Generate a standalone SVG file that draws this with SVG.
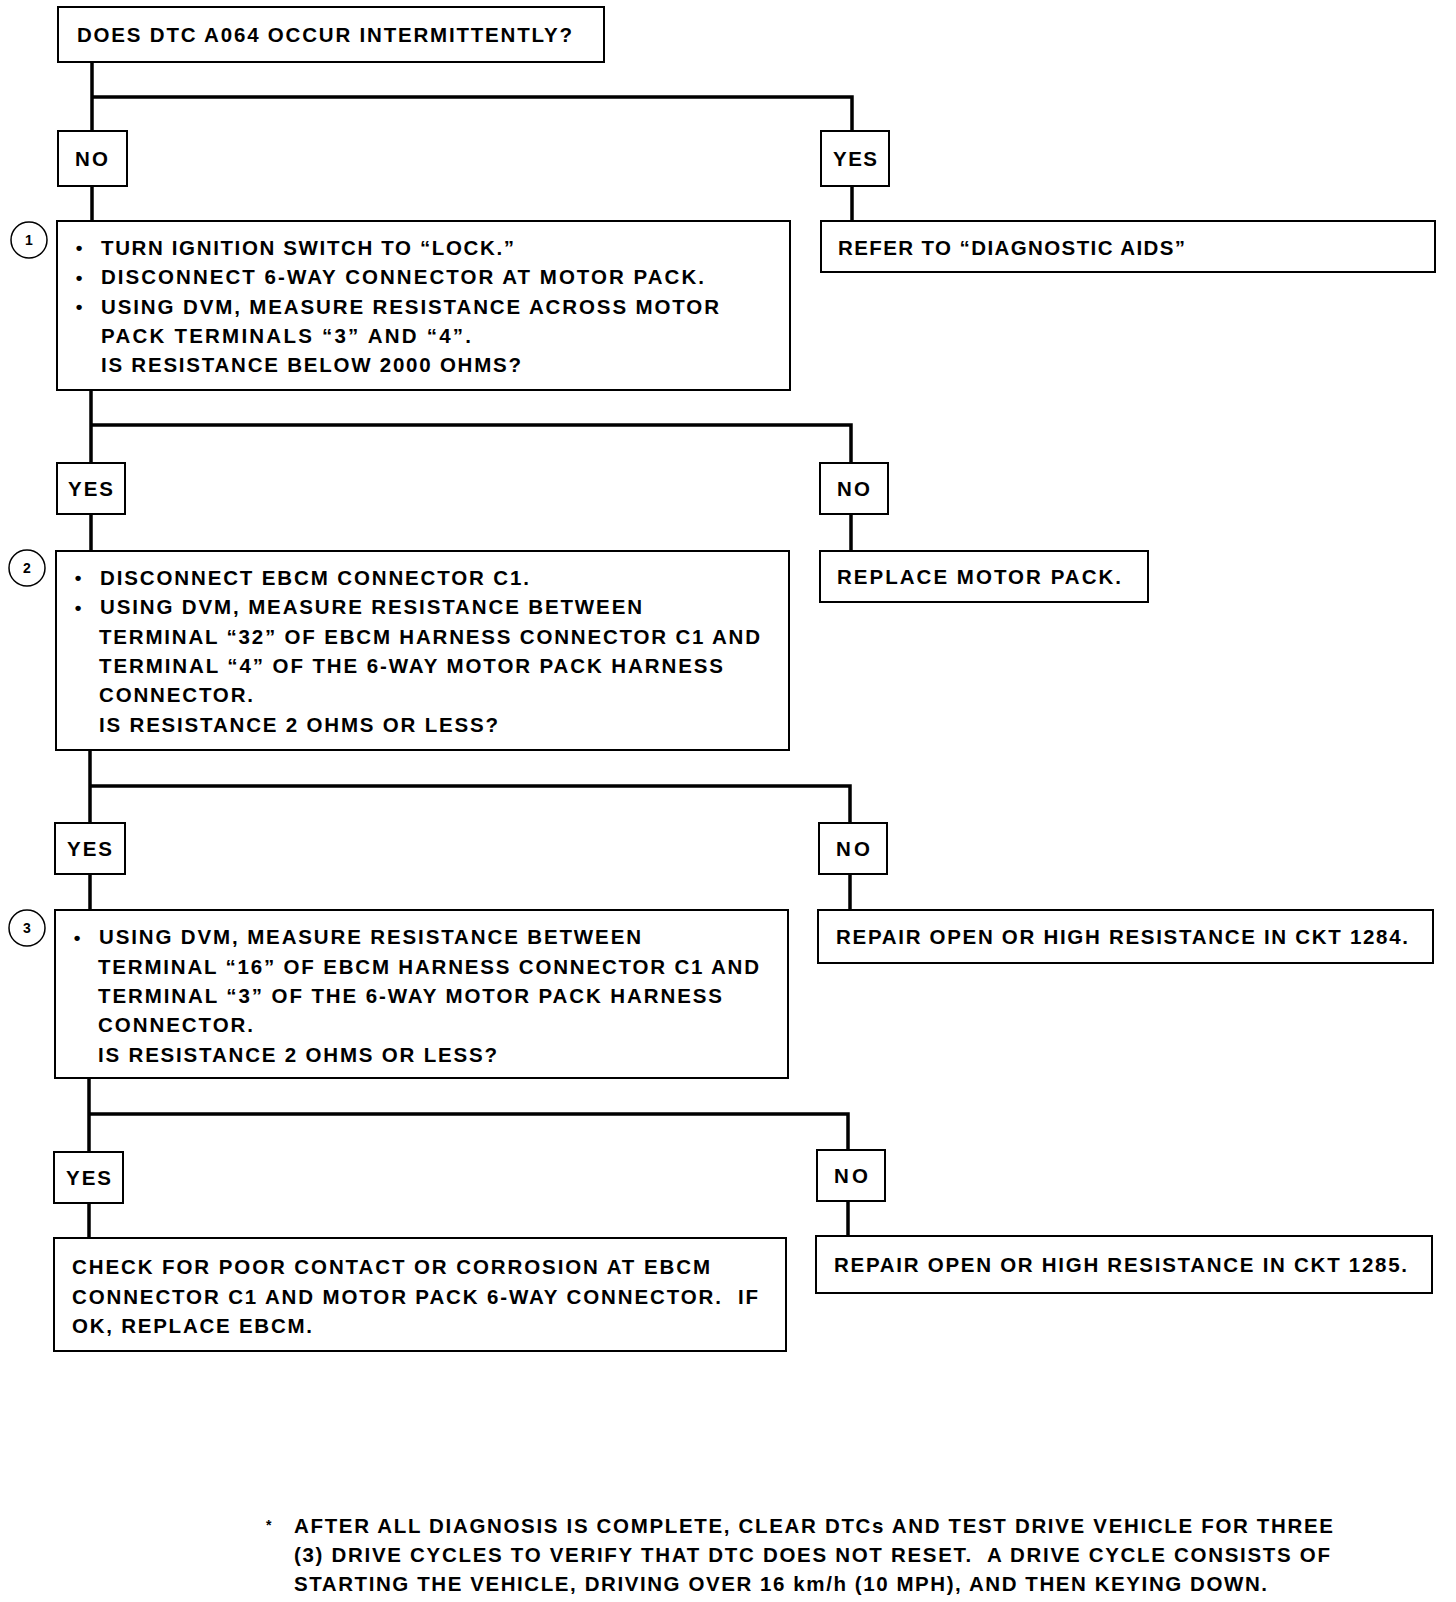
<svg xmlns="http://www.w3.org/2000/svg" width="1456" height="1602" viewBox="0 0 1456 1602">
<style>
.box{fill:#fff;stroke:#000;stroke-width:2}
.conn{fill:none;stroke:#000;stroke-width:3.5;stroke-linejoin:miter}
.t{font-family:"Liberation Sans",Arial,Helvetica,sans-serif;font-size:20.5px;font-weight:bold;fill:#000}
.b{font-family:"Liberation Sans",Arial,sans-serif;font-size:19px;font-weight:bold;fill:#000;text-anchor:middle}
.num{font-family:"Liberation Sans",Arial,sans-serif;font-size:14px;font-weight:bold;fill:#000;text-anchor:middle}
.circ{fill:#fff;stroke:#000;stroke-width:1.5}
</style>
<rect width="1456" height="1602" fill="#fff"/>
<g id="connectors">
<path class="conn" d="M92,62 V131 M92,97 H852 V131 M92,186 V221 M852,186 V221"/>
<path class="conn" d="M91,390 V463 M91,425 H851 V463 M91,514 V551 M851,514 V551"/>
<path class="conn" d="M90,750 V823 M90,786 H850 V823 M90,874 V910 M850,874 V910"/>
<path class="conn" d="M89,1078 V1152 M89,1114 H848 V1150 M89,1203 V1238 M848,1201 V1236"/>
</g>
<g id="start">
<rect class="box" x="58" y="7" width="546" height="55"/>
<text class="t" x="77" y="42" textLength="495" lengthAdjust="spacing">DOES DTC A064 OCCUR INTERMITTENTLY?</text>
</g>
<g id="no1">
<rect class="box" x="58" y="131" width="69" height="55"/>
<text class="t" x="75" y="166" textLength="33" lengthAdjust="spacing">NO</text>
</g>
<g id="yes1">
<rect class="box" x="821" y="131" width="68" height="55"/>
<text class="t" x="833" y="166" textLength="44" lengthAdjust="spacing">YES</text>
</g>
<g id="step1">
<circle class="circ" cx="29" cy="240" r="18"/>
<text class="num" x="29" y="245">1</text>
<rect class="box" x="57" y="221" width="733" height="169"/>
<text class="b" x="79" y="254">•</text>
<text class="b" x="79" y="283.5">•</text>
<text class="b" x="79" y="313">•</text>
<text class="t" x="101" y="254.5" textLength="413" lengthAdjust="spacing">TURN IGNITION SWITCH TO “LOCK.”</text>
<text class="t" x="101" y="284" textLength="603" lengthAdjust="spacing">DISCONNECT 6-WAY CONNECTOR AT MOTOR PACK.</text>
<text class="t" x="101" y="313.5" textLength="618" lengthAdjust="spacing">USING DVM, MEASURE RESISTANCE ACROSS MOTOR</text>
<text class="t" x="101" y="342.5" textLength="370" lengthAdjust="spacing">PACK TERMINALS “3” AND “4”.</text>
<text class="t" x="101" y="372" textLength="420" lengthAdjust="spacing">IS RESISTANCE BELOW 2000 OHMS?</text>
</g>
<g id="refer">
<rect class="box" x="821" y="221" width="614" height="51"/>
<text class="t" x="838" y="254.5" textLength="347" lengthAdjust="spacing">REFER TO “DIAGNOSTIC AIDS”</text>
</g>
<g id="yes2">
<rect class="box" x="57" y="463" width="68" height="51"/>
<text class="t" x="68" y="496" textLength="45" lengthAdjust="spacing">YES</text>
</g>
<g id="no2">
<rect class="box" x="820" y="463" width="68" height="51"/>
<text class="t" x="837" y="496" textLength="33" lengthAdjust="spacing">NO</text>
</g>
<g id="step2">
<circle class="circ" cx="27" cy="568" r="18"/>
<text class="num" x="27" y="573">2</text>
<rect class="box" x="56" y="551" width="733" height="199"/>
<text class="b" x="78" y="584">•</text>
<text class="b" x="78" y="613.5">•</text>
<text class="t" x="100" y="584.5" textLength="429" lengthAdjust="spacing">DISCONNECT EBCM CONNECTOR C1.</text>
<text class="t" x="100" y="614" textLength="542" lengthAdjust="spacing">USING DVM, MEASURE RESISTANCE BETWEEN</text>
<text class="t" x="99" y="643.5" textLength="661" lengthAdjust="spacing">TERMINAL “32” OF EBCM HARNESS CONNECTOR C1 AND</text>
<text class="t" x="99" y="673" textLength="624" lengthAdjust="spacing">TERMINAL “4” OF THE 6-WAY MOTOR PACK HARNESS</text>
<text class="t" x="99" y="702" textLength="154" lengthAdjust="spacing">CONNECTOR.</text>
<text class="t" x="99" y="731.5" textLength="399" lengthAdjust="spacing">IS RESISTANCE 2 OHMS OR LESS?</text>
</g>
<g id="replace-motor">
<rect class="box" x="820" y="551" width="328" height="51"/>
<text class="t" x="837" y="584" textLength="284" lengthAdjust="spacing">REPLACE MOTOR PACK.</text>
</g>
<g id="yes3">
<rect class="box" x="55" y="823" width="70" height="51"/>
<text class="t" x="67" y="856" textLength="45" lengthAdjust="spacing">YES</text>
</g>
<g id="no3">
<rect class="box" x="819" y="823" width="68" height="51"/>
<text class="t" x="836" y="856" textLength="34" lengthAdjust="spacing">NO</text>
</g>
<g id="step3">
<circle class="circ" cx="27" cy="928" r="18"/>
<text class="num" x="27" y="933">3</text>
<rect class="box" x="55" y="910" width="733" height="168"/>
<text class="b" x="77" y="943.5">•</text>
<text class="t" x="99" y="944" textLength="542" lengthAdjust="spacing">USING DVM, MEASURE RESISTANCE BETWEEN</text>
<text class="t" x="98" y="973.5" textLength="661" lengthAdjust="spacing">TERMINAL “16” OF EBCM HARNESS CONNECTOR C1 AND</text>
<text class="t" x="98" y="1002.5" textLength="624" lengthAdjust="spacing">TERMINAL “3” OF THE 6-WAY MOTOR PACK HARNESS</text>
<text class="t" x="98" y="1032" textLength="155" lengthAdjust="spacing">CONNECTOR.</text>
<text class="t" x="98" y="1061.5" textLength="399" lengthAdjust="spacing">IS RESISTANCE 2 OHMS OR LESS?</text>
</g>
<g id="repair1284">
<rect class="box" x="818" y="910" width="615" height="53"/>
<text class="t" x="836" y="943.5" textLength="572" lengthAdjust="spacing">REPAIR OPEN OR HIGH RESISTANCE IN CKT 1284.</text>
</g>
<g id="yes4">
<rect class="box" x="54" y="1152" width="69" height="51"/>
<text class="t" x="66" y="1185" textLength="45" lengthAdjust="spacing">YES</text>
</g>
<g id="no4">
<rect class="box" x="817" y="1150" width="68" height="51"/>
<text class="t" x="834" y="1183" textLength="34" lengthAdjust="spacing">NO</text>
</g>
<g id="check-contact">
<rect class="box" x="54" y="1238" width="732" height="113"/>
<text class="t" x="72" y="1274" textLength="638" lengthAdjust="spacing">CHECK FOR POOR CONTACT OR CORROSION AT EBCM</text>
<text class="t" x="72" y="1303.5" textLength="686" lengthAdjust="spacing" xml:space="preserve">CONNECTOR C1 AND MOTOR PACK 6-WAY CONNECTOR.  IF</text>
<text class="t" x="72" y="1332.5" textLength="240" lengthAdjust="spacing">OK, REPLACE EBCM.</text>
</g>
<g id="repair1285">
<rect class="box" x="816" y="1236" width="616" height="57"/>
<text class="t" x="834" y="1271.5" textLength="573" lengthAdjust="spacing">REPAIR OPEN OR HIGH RESISTANCE IN CKT 1285.</text>
</g>
<g id="footnote">
<text class="t" x="266" y="1530" style="font-size:14px">*</text>
<text class="t" x="294" y="1532.5" textLength="1039" lengthAdjust="spacing">AFTER ALL DIAGNOSIS IS COMPLETE, CLEAR DTCs AND TEST DRIVE VEHICLE FOR THREE</text>
<text class="t" x="294" y="1561.5" textLength="1036" lengthAdjust="spacing" xml:space="preserve">(3) DRIVE CYCLES TO VERIFY THAT DTC DOES NOT RESET.  A DRIVE CYCLE CONSISTS OF</text>
<text class="t" x="294" y="1590.5" textLength="973" lengthAdjust="spacing">STARTING THE VEHICLE, DRIVING OVER 16 km/h (10 MPH), AND THEN KEYING DOWN.</text>
</g>
</svg>
